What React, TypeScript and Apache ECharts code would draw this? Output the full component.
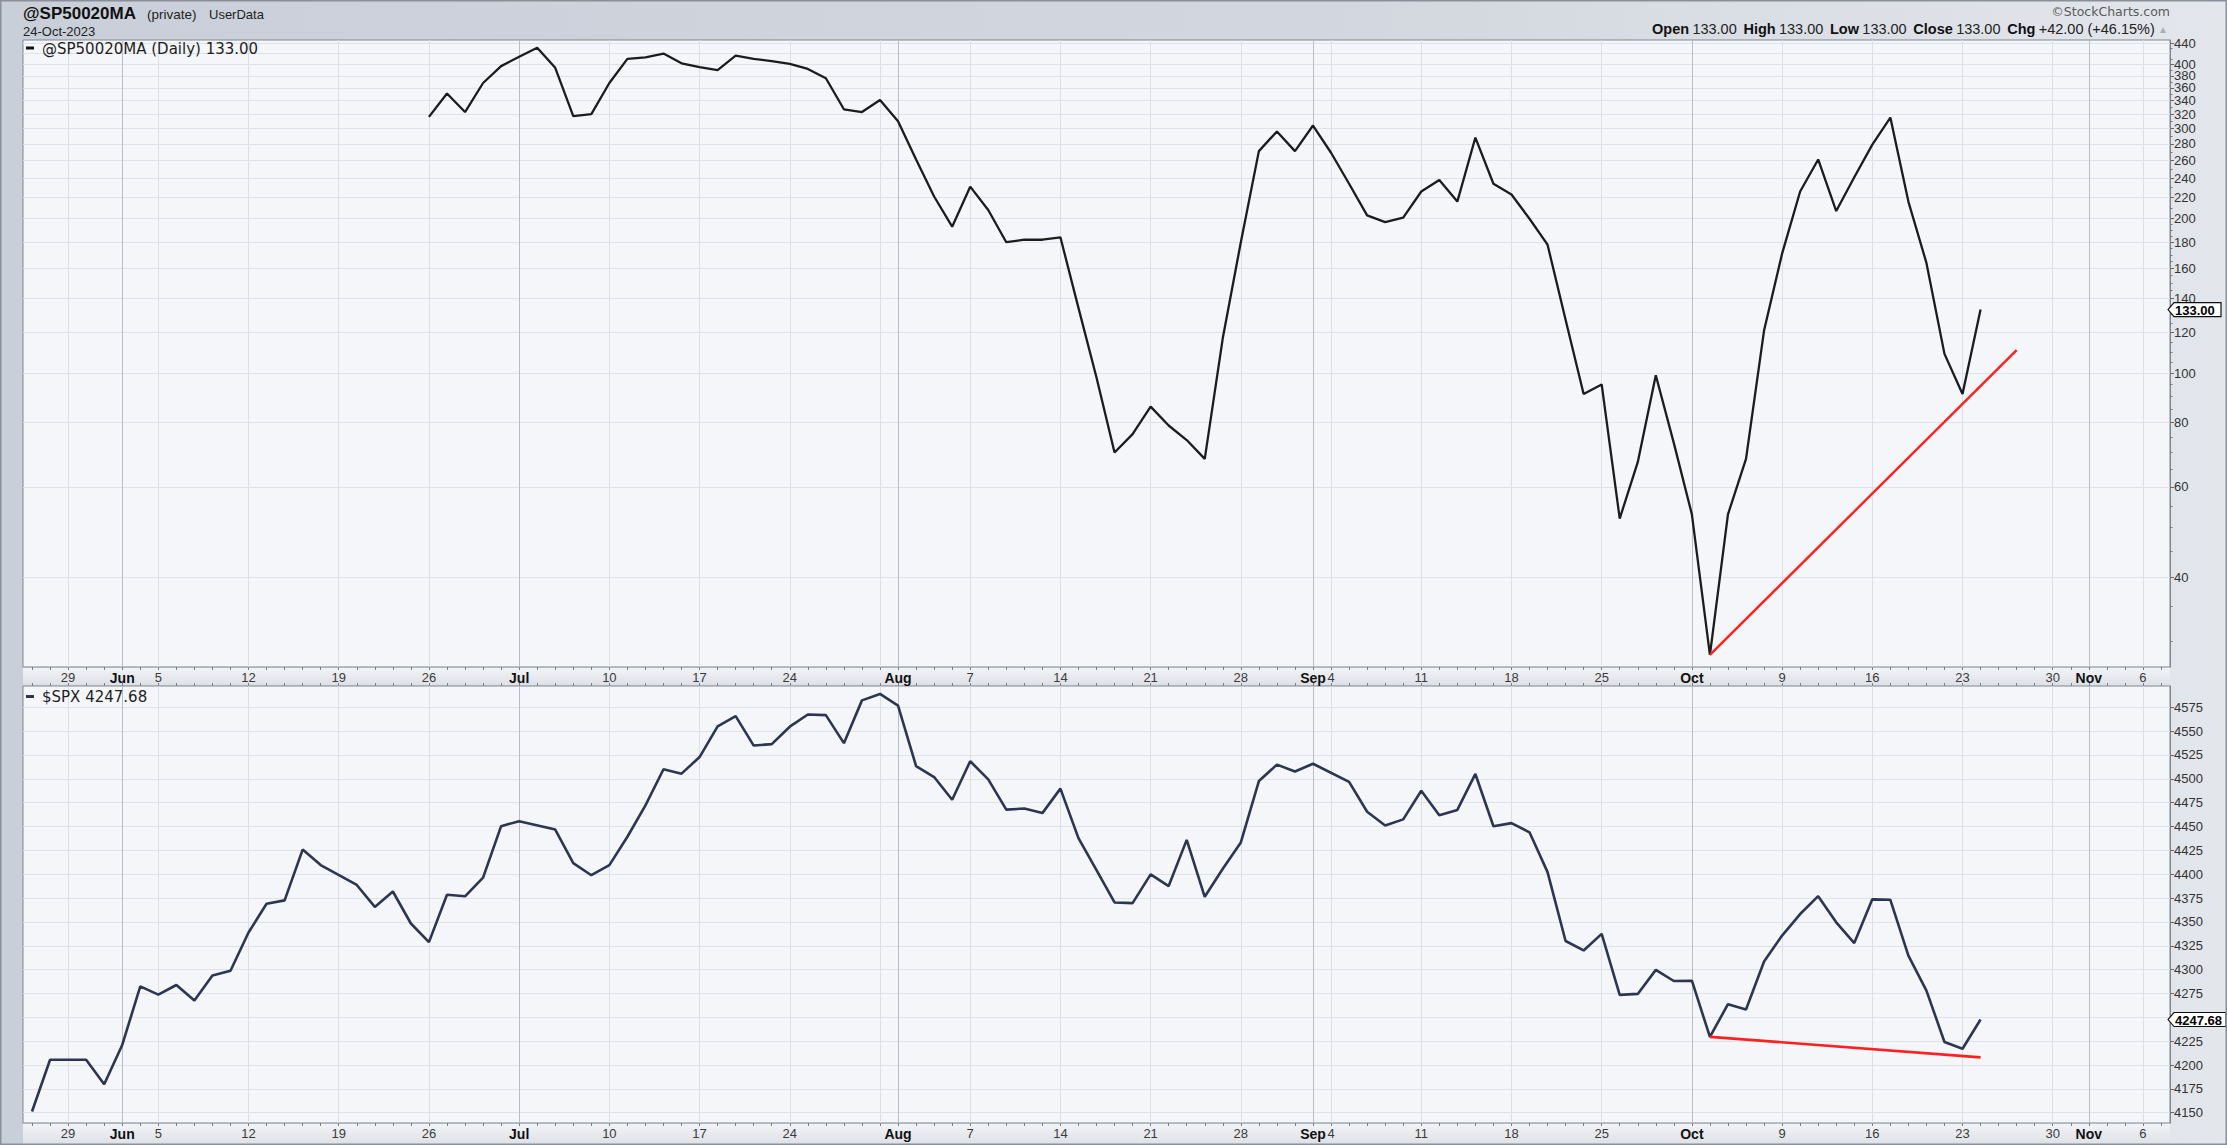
import React, { useEffect, useRef } from "react";
import * as echarts from "echarts";

// ---------- data ----------
const firstDay = "2023-05-25";
const lastAxisDay = "2023-11-07";

// S&P 500 closes, one per weekday from 2023-05-25 (null = market holiday)
const spxClose: (number | null)[] = [
  4151.28, 4205.45, null, 4205.52, 4179.83, 4221.02, 4282.37, 4273.79, 4283.85, 4267.52,
  4293.93, 4298.86, 4338.93, 4369.01, 4372.59, 4425.84, 4409.59, null, 4388.71, 4365.69,
  4381.89, 4348.33, 4328.82, 4378.41, 4376.86, 4396.44, 4450.38, 4455.59, null, 4446.82,
  4411.59, 4398.95, 4409.53, 4439.26, 4472.16, 4510.04, 4505.42, 4522.79, 4554.98, 4565.72,
  4534.87, 4536.34, 4554.64, 4567.46, 4566.75, 4537.41, 4582.23, 4588.96, 4576.73, 4513.39,
  4501.89, 4478.03, 4518.44, 4499.38, 4467.71, 4468.83, 4464.05, 4489.72, 4437.86, 4404.33,
  4370.36, 4369.71, 4399.77, 4387.55, 4436.01, 4376.31, 4405.71, 4433.31, 4497.63, 4514.87,
  4507.66, 4515.77, null, 4496.83, 4465.48, 4451.14, 4457.49, 4487.46, 4461.9, 4467.44,
  4505.1, 4450.32, 4453.53, 4443.95, 4402.2, 4330.0, 4320.06, 4337.44, 4273.53, 4274.51,
  4299.7, 4288.05, 4288.39, 4229.45, 4263.75, 4258.19, 4308.5, 4335.66, 4358.24, 4376.95,
  4349.61, 4327.78, 4373.63, 4373.2, 4314.6, 4278.0, 4224.16, 4217.04, 4247.68,
];

// @SP50020MA, one per weekday from 2023-06-26
const maStart = "2023-06-26";
const maValues: number[] = [
  316, 351, 323, 368, 397, 414, 431, 394, 317, 320,
  368, 410, 413, 420, 402, 395, 390, 416, 410, 406,
  401, 392, 376, 327, 323, 341, 310, 261, 221, 193,
  231, 208, 180, 182, 182, 184, 134, 98, 70, 76,
  86, 79, 74, 68, 117, 180, 271, 296, 271, 304,
  269, 234, 203, 197, 201, 226, 238, 216, 288, 234,
  223, 200, 178, 127, 91, 95, 52, 67, 99, 73,
  53, 28.2, 53, 68, 121, 171, 226, 261, 207, 241,
  279, 315, 216, 164, 109, 91, 133,
];

// red trend lines [date, value]
const maTrend: [string, number][] = [["2023-10-03", 28.2], ["2023-10-26", 110.8]];
const spxTrend: [string, number][] = [["2023-10-03", 4229.5], ["2023-10-24", 4208]];

// axis tick labels
const xTickLabels: [string, string][] = [
  ["2023-05-29", "29"], ["2023-06-01", "Jun"], ["2023-06-05", "5"], ["2023-06-12", "12"],
  ["2023-06-19", "19"], ["2023-06-26", "26"], ["2023-07-03", "Jul"], ["2023-07-10", "10"],
  ["2023-07-17", "17"], ["2023-07-24", "24"], ["2023-08-01", "Aug"], ["2023-08-07", "7"],
  ["2023-08-14", "14"], ["2023-08-21", "21"], ["2023-08-28", "28"], ["2023-09-01", "Sep"],
  ["2023-09-04", "4"], ["2023-09-11", "11"], ["2023-09-18", "18"], ["2023-09-25", "25"],
  ["2023-10-02", "Oct"], ["2023-10-09", "9"], ["2023-10-16", "16"], ["2023-10-23", "23"],
  ["2023-10-30", "30"], ["2023-11-01", "Nov"], ["2023-11-06", "6"],
];
const monthStarts: string[] = ["2023-06-01", "2023-07-03", "2023-08-01", "2023-09-01", "2023-10-02", "2023-11-01"];
const monthNames = ["Jun", "Jul", "Aug", "Sep", "Oct", "Nov"];

const maAxisTicks: number[] = [440, 420, 400, 380, 360, 340, 320, 300, 280, 260, 240, 220, 200, 180, 160, 140, 120, 100, 80, 60, 40];
const maMinorTicks: number[] = [30, 35, 45, 50, 55, 65, 70, 75, 85, 90, 95, 105, 110, 115, 125, 130, 135, 145, 150, 155, 165, 170, 175, 185, 190, 195, 210, 230, 250, 270, 290, 310, 330, 350, 370, 390, 410, 430];
const maRange: [number, number] = [26.7, 446.4];
const spxAxisTicks: number[] = [4150, 4175, 4200, 4225, 4250, 4275, 4300, 4325, 4350, 4375, 4400, 4425, 4450, 4475, 4500, 4525, 4550, 4575];
// 4250 sits under the last-price tag in the reference, so its label is not drawn
const spxAxisLabels: number[] = [4150, 4175, 4200, 4225, 4275, 4300, 4325, 4350, 4375, 4400, 4425, 4450, 4475, 4500, 4525, 4550, 4575];
const spxRange: [number, number] = [4139.2, 4597.3];

// ---------- helpers ----------
function weekdays(start: string, end: string): string[] {
  const out: string[] = [];
  const d = new Date(start + "T00:00:00Z");
  const e = new Date(end + "T00:00:00Z");
  while (d <= e) {
    const wd = d.getUTCDay();
    if (wd !== 0 && wd !== 6) out.push(d.toISOString().slice(0, 10));
    d.setUTCDate(d.getUTCDate() + 1);
  }
  return out;
}
const days = weekdays(firstDay, lastAxisDay);
const idxOf = (d: string) => days.indexOf(d);
const lg = (v: number) => Math.log10(v);

const allIdx = days.map((_, i) => i);
const mondayIdx = days
  .map((d, i) => ({ d, i }))
  .filter(({ d }) => new Date(d + "T00:00:00Z").getUTCDay() === 1 && !monthStarts.includes(d))
  .map(({ i }) => i);
const monthIdx = monthStarts.map(idxOf);
const labelIdx = xTickLabels.map(([d]) => idxOf(d));
const labelMap = new Map<number, string>(xTickLabels.map(([d, t]) => [idxOf(d), t]));

const spxData = spxClose
  .map((v, i) => [i, v] as [number, number | null])
  .filter((p) => p[1] !== null);
const maOffset = idxOf(maStart);
const maData = maValues.map((v, i) => [maOffset + i, lg(v)]);
const maTrendData = maTrend.map(([d, v]) => [idxOf(d), lg(v)]);
const spxTrendData = spxTrend.map(([d, v]) => [idxOf(d), v]);

const lastMa = maValues[maValues.length - 1];
const lastSpx = spxClose[spxClose.length - 1] as number;
const lastIdx = spxClose.length - 1;

// ---------- layout constants ----------
const W = 2227;
const H = 1145;
const PL = 23;
const PR = 57;
const TOP1 = 40;
const H1 = 627;
const TOP2 = 686;
const H2 = 437;
const FONT = "Liberation Sans, Arial, sans-serif";
const XMIN = -0.5;
const XMAX = days.length - 0.5;

const xLabelFmt = (v: number) => {
  const t = labelMap.get(Math.round(v));
  if (!t) return "";
  return monthNames.includes(t) ? `{m|${t}}` : t;
};

const mainX = (gridIndex: number) => ({
  type: "value",
  gridIndex,
  min: XMIN,
  max: XMAX,
  position: "bottom",
  axisLine: { show: false, onZero: false },
  axisTick: { show: true, customValues: allIdx, length: 3, lineStyle: { color: "#7a7f88", width: 1 } },
  axisLabel: {
    customValues: labelIdx,
    formatter: xLabelFmt,
    margin: 4,
    fontSize: 13,
    fontFamily: FONT,
    color: "#3a3a3a",
    showMinLabel: true,
    showMaxLabel: true,
    hideOverlap: false,
    rich: { m: { fontWeight: "bold", fontSize: 14, fontFamily: FONT, color: "#111" } },
  },
  splitLine: { show: false },
});

const lineX = (gridIndex: number, vals: number[], color: string) => ({
  type: "value",
  gridIndex,
  min: XMIN,
  max: XMAX,
  position: "bottom",
  axisLine: { show: false, onZero: false },
  axisLabel: { show: false },
  axisTick: { show: false, customValues: vals },
  splitLine: { show: true, showMinLine: true, showMaxLine: true, lineStyle: { color, width: 1 } },
});

const option: any = {
  animation: false,
  backgroundColor: {
    type: "linear", x: 0, y: 0, x2: 1, y2: 0,
    colorStops: [
      { offset: 0, color: "#c9cfd9" },
      { offset: 0.6, color: "#d2d7df" },
      { offset: 1, color: "#e3e6eb" },
    ],
  },
  grid: [
    { left: PL, right: PR, top: TOP1, height: H1, show: true, backgroundColor: "#f5f6fa", borderColor: "#80858f", borderWidth: 1 },
    { left: PL, right: PR, top: TOP2, height: H2, show: true, backgroundColor: "#f5f6fa", borderColor: "#80858f", borderWidth: 1 },
  ],
  xAxis: [
    mainX(0),
    lineX(0, mondayIdx, "#dcdfe5"),
    lineX(0, monthIdx, "#b9bdc6"),
    mainX(1),
    lineX(1, mondayIdx, "#dcdfe5"),
    lineX(1, monthIdx, "#b9bdc6"),
    {
      type: "value", gridIndex: 1, min: XMIN, max: XMAX, position: "top",
      axisLine: { show: false, onZero: false }, axisLabel: { show: false },
      axisTick: { show: true, customValues: allIdx, length: 3, lineStyle: { color: "#7a7f88" } },
      splitLine: { show: false },
    },
  ],
  yAxis: [
    {
      type: "value", gridIndex: 0, position: "right", min: lg(maRange[0]), max: lg(maRange[1]),
      axisLine: { show: true, onZero: false, lineStyle: { color: "#80858f" } },
      axisTick: { show: true, customValues: maAxisTicks.map(lg), length: 4, lineStyle: { color: "#666" } },
      axisLabel: {
        customValues: maAxisTicks.map(lg),
        formatter: (v: number) => String(Math.round(Math.pow(10, v))),
        margin: 4, fontSize: 13, fontFamily: FONT, color: "#333",
        showMinLabel: true, showMaxLabel: true, hideOverlap: false,
      },
      splitLine: { show: true, lineStyle: { color: "#dfe2e8", width: 1 } },
    },
    {
      type: "value", gridIndex: 0, position: "right", min: lg(maRange[0]), max: lg(maRange[1]),
      axisLine: { show: false, onZero: false },
      axisTick: { show: true, customValues: maMinorTicks.map(lg), length: 2.5, lineStyle: { color: "#777" } },
      axisLabel: { show: false },
      splitLine: { show: false },
    },
    {
      type: "value", gridIndex: 1, position: "right", min: spxRange[0], max: spxRange[1],
      axisLine: { show: true, onZero: false, lineStyle: { color: "#80858f" } },
      axisTick: { show: true, customValues: spxAxisTicks, length: 4, lineStyle: { color: "#666" } },
      axisLabel: {
        customValues: spxAxisLabels,
        formatter: (v: number) => String(Math.round(v)),
        margin: 4, fontSize: 13, fontFamily: FONT, color: "#333",
        showMinLabel: true, showMaxLabel: true, hideOverlap: false,
      },
      splitLine: { show: true, lineStyle: { color: "#dfe2e8", width: 1 } },
    },
  ],
  series: [
    {
      name: "@SP50020MA", type: "line", xAxisIndex: 0, yAxisIndex: 0, data: maData,
      symbol: "none", z: 3, lineStyle: { color: "#1c1c1c", width: 2.3 }, clip: true,
    },
    {
      name: "maTrend", type: "line", xAxisIndex: 0, yAxisIndex: 0, data: maTrendData,
      symbol: "none", z: 4, lineStyle: { color: "#ff1f1f", width: 2.4 },
    },
    {
      name: "$SPX", type: "line", xAxisIndex: 3, yAxisIndex: 2, data: spxData,
      symbol: "none", z: 3, lineStyle: { color: "#2c3552", width: 2.6 }, clip: true,
    },
    {
      name: "spxTrend", type: "line", xAxisIndex: 3, yAxisIndex: 2, data: spxTrendData,
      symbol: "none", z: 4, lineStyle: { color: "#ff1f1f", width: 2.6 },
    },
  ],
};

function priceTag(y: number, text: string, w: number) {
  return {
    type: "group",
    x: PL + (W - PL - PR) - 2,
    y,
    z: 50,
    children: [
      {
        type: "polygon",
        z: 50,
        shape: { points: [[0, 0], [6, -7], [w, -7], [w, 7], [6, 7]] },
        style: { fill: "#ffffff", stroke: "#111", lineWidth: 1.2 },
      },
      {
        type: "text",
        z: 51,
        x: 7,
        y: 0.5,
        style: { text, fill: "#000", font: `bold 13px ${FONT}`, verticalAlign: "middle", align: "left" },
      },
    ],
  };
}

function baseGraphics() {
  const stripFill = {
    type: "linear", x: 0, y: 0, x2: 0, y2: 1,
    colorStops: [{ offset: 0, color: "#f3f4f7" }, { offset: 1, color: "#dde0e6" }],
  };
  return [
    { type: "rect", z: -10, shape: { x: PL, y: TOP1 + H1 + 0.5, width: W - PL - PR, height: TOP2 - TOP1 - H1 - 1 }, style: { fill: stripFill } },
    { type: "rect", z: -10, shape: { x: PL, y: TOP2 + H2 + 0.5, width: W - PL - PR, height: H - TOP2 - H2 - 1 }, style: { fill: stripFill } },
    { type: "rect", z: 60, shape: { x: 0.5, y: 0.5, width: W - 1, height: H - 1 }, style: { fill: "none", stroke: "#8a8f98", lineWidth: 2 } },
    // header left
    { type: "text", x: 23, y: 13, style: { text: "@SP50020MA", font: `bold 17px ${FONT}`, fill: "#111", verticalAlign: "middle" } },
    { type: "text", x: 147, y: 14, style: { text: "(private)", font: `13.5px ${FONT}`, fill: "#222", verticalAlign: "middle" } },
    { type: "text", x: 209, y: 14, style: { text: "UserData", font: `13px ${FONT}`, fill: "#222", verticalAlign: "middle" } },
    { type: "text", x: 23, y: 31, style: { text: "24-Oct-2023", font: `13px ${FONT}`, fill: "#222", verticalAlign: "middle" } },
    // header right
    { type: "text", x: 2170, y: 11, style: { text: "\u00A9StockCharts.com", font: `12.5px DejaVu Sans, sans-serif`, fill: "#5a5a5a", align: "right", verticalAlign: "middle" } },
    {
      type: "text", x: 2168, y: 29,
      style: {
        text: "{b|Open} {v|133.00}  {b|High} {v|133.00}  {b|Low} {v|133.00}  {b|Close} {v|133.00}  {b|Chg} {v|+42.00 (+46.15%)} {a|\u25B2}",
        align: "right", verticalAlign: "middle",
        rich: {
          b: { font: `bold 14.5px ${FONT}`, fill: "#111" },
          v: { font: `14.5px ${FONT}`, fill: "#222" },
          a: { font: `10px ${FONT}`, fill: "#a9aeb8" },
        },
      },
    },
    // legends
    { type: "rect", shape: { x: 26, y: 46.5, width: 8, height: 3 }, style: { fill: "#111" } },
    { type: "text", x: 42, y: 48.5, style: { text: `@SP50020MA (Daily) ${lastMa.toFixed(2)}`, font: `15px DejaVu Sans, sans-serif`, fill: "#1e1e1e", verticalAlign: "middle" } },
    { type: "rect", shape: { x: 26, y: 695, width: 8, height: 3 }, style: { fill: "#2c3552" } },
    { type: "text", x: 42, y: 697, style: { text: `$SPX ${lastSpx.toFixed(2)}`, font: `15px DejaVu Sans, sans-serif`, fill: "#1e1e1e", verticalAlign: "middle" } },
  ];
}

export default function App() {
  const ref = useRef<HTMLDivElement>(null);
  useEffect(() => {
    const el = ref.current;
    if (!el) return;
    const chart = echarts.init(el, null, { renderer: "svg" });
    chart.setOption(option);
    const p1 = chart.convertToPixel({ xAxisIndex: 0, yAxisIndex: 0 } as any, [lastIdx, lg(lastMa)]) as number[];
    const p2 = chart.convertToPixel({ xAxisIndex: 3, yAxisIndex: 2 } as any, [lastIdx, lastSpx]) as number[];
    chart.setOption({
      graphic: [...baseGraphics(), priceTag(p1[1], lastMa.toFixed(2), 53), priceTag(p2[1], lastSpx.toFixed(2), 58)],
    });
    return () => chart.dispose();
  }, []);
  return <div ref={ref} style={{ position: "fixed", left: 0, top: 0, width: W, height: H }} />;
}
